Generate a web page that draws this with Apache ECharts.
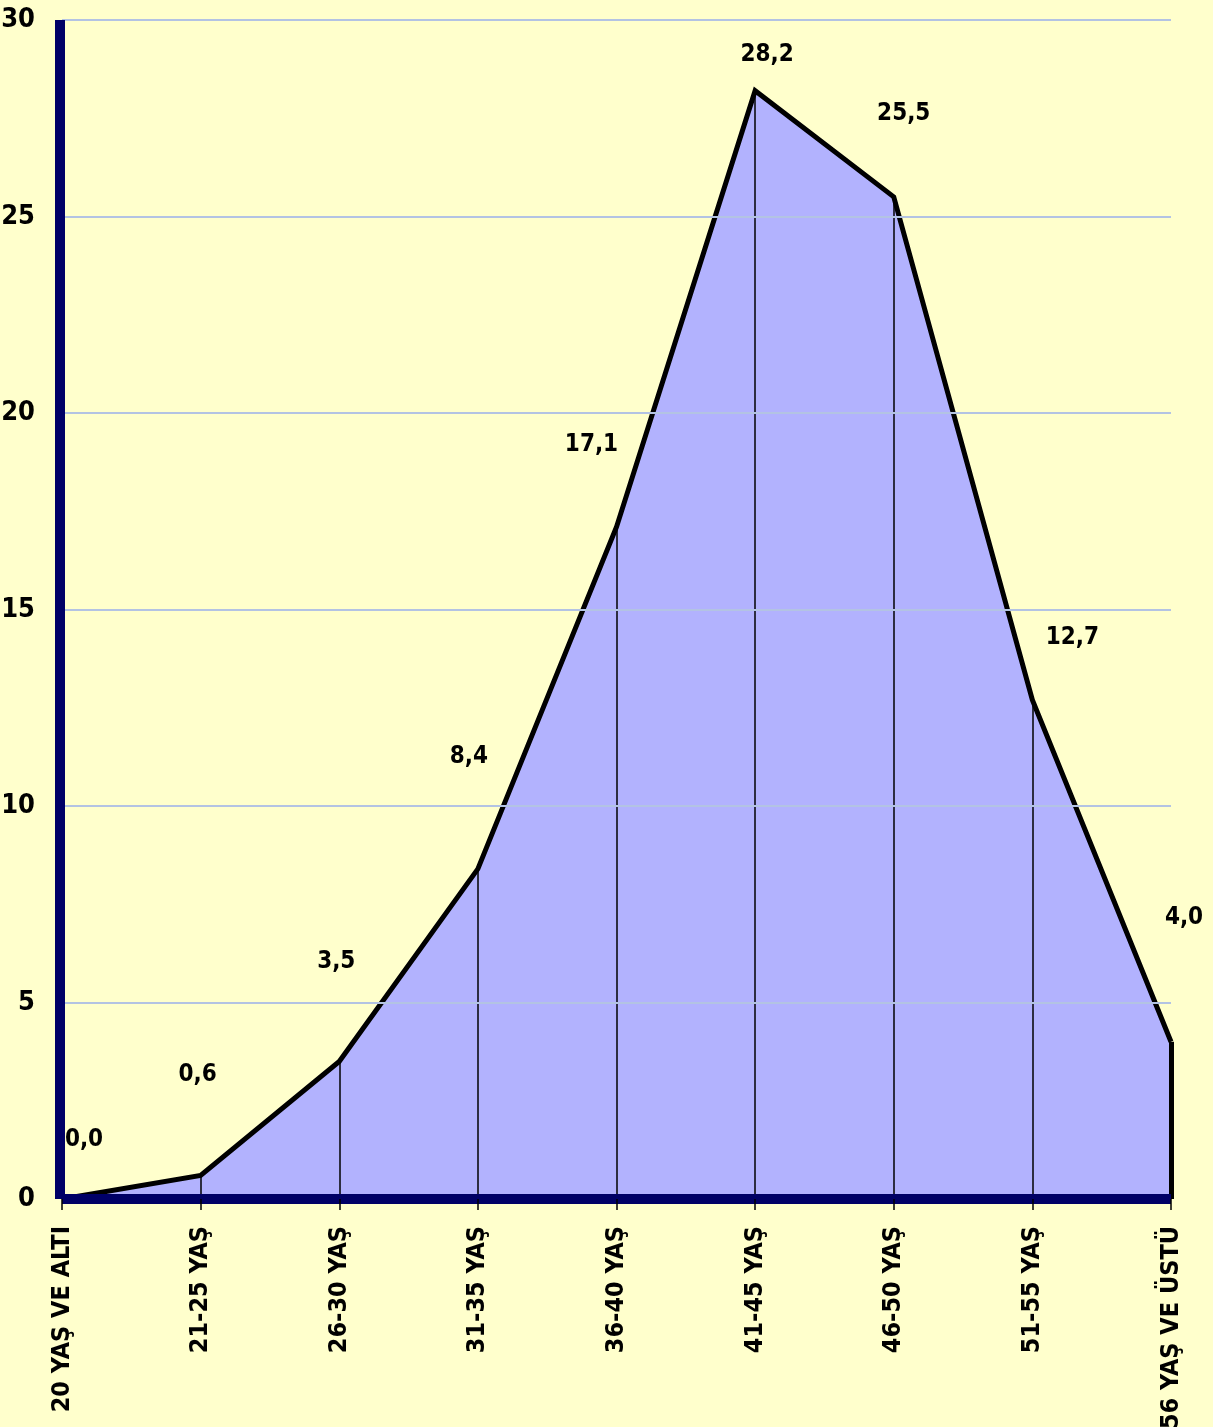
<!DOCTYPE html>
<html>
<head>
<meta charset="utf-8">
<script src="https://cdn.jsdelivr.net/npm/echarts@6/dist/echarts.min.js"></script>
<style>
  html, body { margin: 0; padding: 0; background: #ffffcc; }
  #chart { width: 1213px; height: 1427px; }
</style>
</head>
<body>
<div id="chart"></div>
<script>
const categories = [
  "20 YAŞ VE ALTI",
  "21-25 YAŞ",
  "26-30 YAŞ",
  "31-35 YAŞ",
  "36-40 YAŞ",
  "41-45 YAŞ",
  "46-50 YAŞ",
  "51-55 YAŞ",
  "56 YAŞ VE ÜSTÜ",
];
const values = [0.0, 0.6, 3.5, 8.4, 17.1, 28.2, 25.5, 12.7, 4.0];
const yTicks = [0, 5, 10, 15, 20, 25, 30];

// hand placed data labels (as in the original sheet)
const labelOffsets = [
  [22, -42], [-3, -83], [-3, -82], [-9, -95], [-25, -65],
  [12, -18], [10, -66], [40, -45], [13, -107],
];

const FONT = '"Liberation Sans Narrow", "DejaVu Sans Condensed", "Liberation Sans", sans-serif';
const fmt = (v) => v.toFixed(1).replace(".", ",");

const chart = echarts.init(document.getElementById("chart"));

const dropLines = values
  .map((v, i) => ({ v, i }))
  .filter((d) => d.v > 0)
  .map((d) => [
    {
      coord: [categories[d.i], 0],
      lineStyle: { width: d.i === values.length - 1 ? 5 : 1.5 },
    },
    { coord: [categories[d.i], d.v] },
  ]);

const option = {
  backgroundColor: "#ffffcc",
  animation: false,
  grid: { top: 20, bottom: 228, left: 62, right: 42, outerBoundsMode: "none", containLabel: false },
  xAxis: {
    type: "category",
    data: categories,
    boundaryGap: false,
    z: 10,
    axisLine: { lineStyle: { color: "#000066", width: 10, cap: "butt" } },
    axisTick: { length: 11, lineStyle: { color: "#000000", width: 1.5 } },
    axisLabel: {
      rotate: 90,
      margin: 27,
      interval: 0,
      color: "#000",
      fontFamily: FONT,
      fontWeight: "bold",
      fontSize: 25,
    },
    splitLine: { show: false },
  },
  yAxis: {
    type: "value",
    min: yTicks[0],
    max: yTicks[yTicks.length - 1],
    interval: 5,
    offset: 2,
    z: 10,
    axisLine: { show: true, lineStyle: { color: "#000066", width: 10, cap: "butt" } },
    axisTick: { show: false },
    axisLabel: {
      margin: 25,
      color: "#000",
      fontFamily: FONT,
      fontWeight: "bold",
      fontSize: 27,
    },
    splitLine: { lineStyle: { color: "#b3c3e3", width: 2 } },
  },
  series: [
    {
      type: "line",
      data: values.map((v, i) => ({
        value: v,
        label: { offset: labelOffsets[i] },
      })),
      showSymbol: true,
      symbol: "circle",
      symbolSize: 1,
      itemStyle: { color: "rgba(0,0,0,0)", borderWidth: 0 },
      lineStyle: { color: "#000", width: 5, join: "miter" },
      areaStyle: { color: "#b2b2fe", opacity: 1 },
      label: {
        show: true,
        position: "top",
        formatter: (p) => fmt(p.value),
        color: "#000",
        fontFamily: FONT,
        fontWeight: "bold",
        fontSize: 24,
      },
      markLine: {
        silent: true,
        symbol: "none",
        label: { show: false },
        lineStyle: { color: "#000", width: 1.5, type: "solid" },
        data: dropLines,
      },
    },
  ],
};

chart.setOption(option);
window.addEventListener("resize", () => {
  chart.resize();
});
</script>
</body>
</html>
